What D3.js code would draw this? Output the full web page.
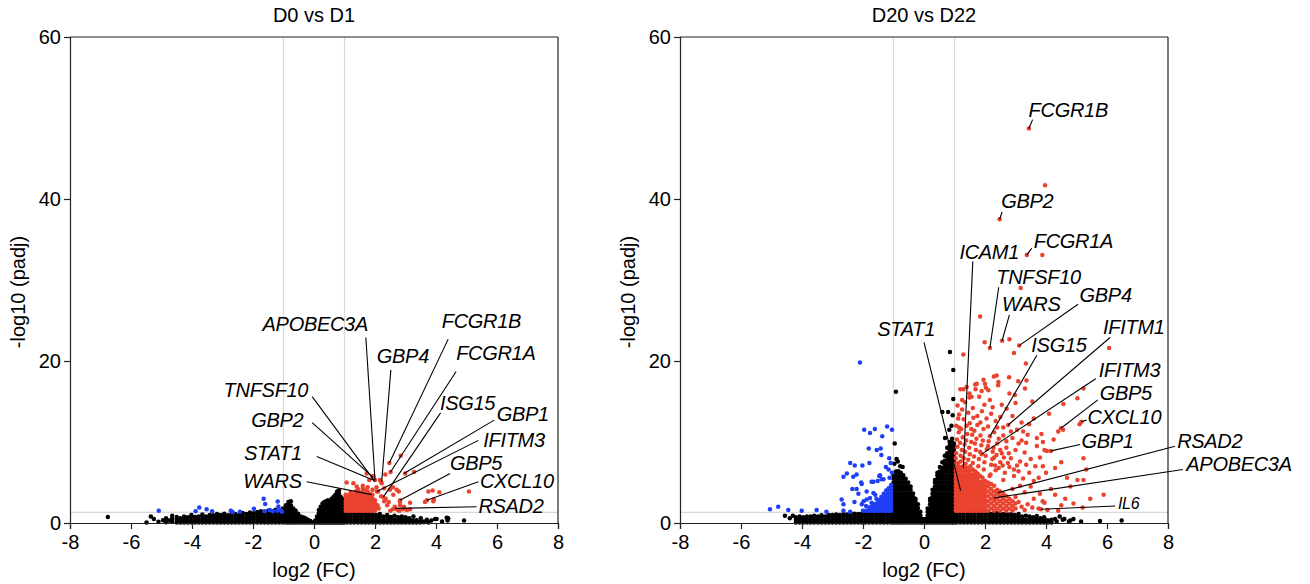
<!DOCTYPE html>
<html>
<head>
<meta charset="utf-8">
<script src="https://cdn.jsdelivr.net/npm/d3@7"></script>
<style>
  body { margin: 0; background: #fff; }
  svg text { font-family: "Liberation Sans", Arial, Helvetica, sans-serif; fill: #000; }
</style>
</head>
<body>
<svg id="chart" width="1310" height="584"></svg>
<script>
// ---- data (log2 FC, -log10 padj) ----
const xTicks = [-8, -6, -4, -2, 0, 2, 4, 6, 8];
const yTicks = [0, 20, 40, 60];
const panelTitles = ['D0 vs D1', 'D20 vs D22'];
const fcCut = [-1, 1];
const padjCut = 1.3;

// D0 vs D1
const d1Black = [[-6.76,0.74],[-5.49,0.05],[-5.35,0.8],[-5.25,0.5],[-5.1,0.15],[-4.95,0.35],[-4.85,0.6],[-4.85,0.1],[-4.75,0.3],[-4.65,0.15],[-4.65,0.55],[-4.65,0.9],
  [3.26,0.8],[3.97,0.5],[4.35,0.65],[4.4,0.6],[4.38,0.3],[4.02,0.5],[4.92,0.3],[3.7,0.4],[3.5,0.6],[4.2,0.2],[3.6,0.2],[3.85,0.3]];
const d1BlackCols = [
  [-4.5,[0.05,0.4,0.75]],[-4.38,[0.05,0.4,0.6]],[-4.26,[0.05,0.4,0.8]],[-4.14,[0.05,0.35,0.7]],[-4.02,[0.05,0.4,0.75,1.0]],
  [-3.9,[0.05,0.4,0.75]],[-3.78,[0.05,0.4,0.8]],[-3.66,[0.05,0.4,0.75,1.05]],[-3.54,[0.05,0.4,0.8]],[-3.42,[0.05,0.4,0.75,1.0]],
  [-3.3,[0.05,0.4,0.75,0.95]],[-3.18,[0.05,0.4,0.75,1.1]],[-3.06,[0.05,0.4,0.75,1.0]],[-2.94,[0.05,0.4,0.75,1.15]],[-2.82,[0.05,0.4,0.75,0.95]],
  [-2.7,[0.05,0.4,0.75,1.1]],[-2.58,[0.05,0.4,0.75,1.1]],[-2.46,[0.05,0.4,0.75,1.0]],[-2.34,[0.05,0.4,0.75,1.1,1.25]],[-2.22,[0.05,0.4,0.75,1.1]],
  [-2.1,[0.05,0.4,0.75,1.1,1.3]],[-1.98,[0.05,0.4,0.75,1.1,1.2]],[-1.86,[0.05,0.4,0.75,1.1,1.35]],[-1.74,[0.05,0.4,0.75,1.1,1.45]],[-1.62,[0.05,0.4,0.75,1.1,1.35]],
  [-1.5,[0.05,0.4,0.75,1.1,1.5]],[-1.38,[0.05,0.4,0.75,1.1,1.45]],[-1.26,[0.05,0.4,0.75,1.1,1.45,1.65]],[-1.14,[0.05,0.4,0.75,1.1,1.45,1.55]],[-1.02,[0.05,0.4,0.75,1.1,1.45,1.8]],
  [-0.92,[0.05,0.4,0.75,1.1,1.45,1.8,2.2]],[-0.84,[0.05,0.4,0.75,1.1,1.45,1.8,2.2,2.6]],[-0.76,[0.05,0.4,0.75,1.1,1.45,1.8,2.2,2.7]],[-0.68,[0.05,0.4,0.75,1.1,1.45,1.8]],
  [-0.6,[0.05,0.4,0.75,1.1,1.5]],[-0.52,[0.05,0.4,0.75,1.15]],[-0.44,[0.05,0.4,0.8]],[-0.36,[0.05,0.4,0.7]],[-0.28,[0.05,0.35,0.6]],[-0.2,[0.05,0.4]],[-0.12,[0.05,0.25]],[-0.04,[0.05]],
  [0.04,[0.05,0.3]],[0.1,[0.05,0.4,0.8]],[0.16,[0.05,0.4,0.8,1.2,1.6]],[0.22,[0.05,0.4,0.8,1.2,1.6,2.0]],[0.28,[0.05,0.4,0.8,1.2,1.6,2.0,2.4]],
  [0.34,[0.05,0.4,0.8,1.2,1.6,2.0,2.4,2.6]],[0.4,[0.05,0.4,0.8,1.2,1.6,2.0,2.4,2.7]],[0.46,[0.05,0.4,0.8,1.2,1.6,2.0,2.4,2.8]],[0.52,[0.05,0.4,0.8,1.2,1.6,2.0,2.4,2.7]],
  [0.58,[0.05,0.4,0.8,1.2,1.6,2.0,2.4,2.8,3.0]],[0.64,[0.05,0.4,0.8,1.2,1.6,2.0,2.4,2.8,3.2]],[0.7,[0.05,0.4,0.8,1.2,1.6,2.0,2.4,2.8,3.2,3.5]],
  [0.76,[0.05,0.4,0.8,1.2,1.6,2.0,2.4,2.8,3.2,3.6,3.9]],[0.82,[0.05,0.4,0.8,1.2,1.6,2.0,2.4,2.8,3.2,3.6,4.0]],[0.88,[0.05,0.4,0.8,1.2,1.6,2.0,2.4,2.8,3.2]],
  [0.94,[0.05,0.4,0.8,1.2,1.6,2.0,2.4,2.8,3.0]],[0.99,[0.05,0.4,0.8,1.2,1.6,2.0,2.4,2.8]],
  [1.08,[0.05,0.4,0.8,1.15]],[1.2,[0.05,0.4,0.8,1.2]],[1.32,[0.05,0.4,0.8,1.15]],[1.44,[0.05,0.4,0.8,1.2]],[1.56,[0.05,0.4,0.8,1.1]],
  [1.68,[0.05,0.4,0.8,1.2]],[1.8,[0.05,0.4,0.8,1.1]],[1.92,[0.05,0.4,0.8,1.15]],[2.04,[0.05,0.4,0.8,1.0]],[2.16,[0.05,0.4,0.8,1.1]],
  [2.28,[0.05,0.4,0.8]],[2.4,[0.05,0.4,0.8,1.0]],[2.52,[0.05,0.4,0.75]],[2.64,[0.05,0.4,0.9]],[2.76,[0.05,0.35,0.7]],[2.88,[0.05,0.4,0.8]],
  [3.0,[0.05,0.35,0.7]],[3.12,[0.05,0.35,0.6]],[3.24,[0.05,0.3]],[3.36,[0.05,0.35]],[3.48,[0.05,0.25]],[3.6,[0.1]],[3.75,[0.05]]
];
const d1Blue = [[-5.09,1.5],[-3.76,1.9],[-3.52,1.7],[-3.88,1.45],[-3.34,1.45],[-2.73,1.5],[-2.67,1.35],[-2.43,1.4],[-1.97,1.75],
  [-1.65,3.0],[-1.6,2.35],[-1.19,2.65],[-1.17,2.05],[-1.62,1.45],[-1.45,1.6],[-1.35,1.45],[-1.2,1.5],[-1.1,1.6],[-1.05,1.4]];
const d1Red = [[2.84,8.3],[2.47,7.4],[1.73,6.1],[1.81,5.3],[2.34,6.0],[2.51,6.3],[2.99,6.1],[3.28,6.3],[2.16,5.3],[2.22,4.9],[1.07,5.0],[1.29,4.9],
  [2.78,3.9],[2.49,4.1],[2.82,2.6],[2.82,2.2],[3.15,2.5],[3.75,3.9],[3.89,4.0],[4.11,3.8],[3.64,2.6],[3.91,2.7],[3.93,2.9],[5.08,3.9],
  [2.59,1.7],[2.75,1.6],[2.92,1.7],[3.05,1.6],[3.15,1.7],[2.2,3.3],[2.35,3.0],[2.45,2.6],[2.3,2.7],[2.08,2.2],[2.12,1.8],[2.59,4.4],
  [2.71,4.1],[2.6,3.5],[2.05,4.4],[2.1,3.9],[1.95,5.8],[2.3,4.3],[2.4,2.2],[2.65,2.0],[2.95,2.0],[1.92,5.7],[2.0,5.3],[2.27,3.2],
  [2.06,3.9],[2.66,1.8],[3.7,2.8],[2.82,2.8],[1.89,3.5],[2.2,5.1],[2.8,1.5],[2.5,1.5],[1.6,4.6],[1.4,4.5]];
const d1RedCols = [
  [1.04,[1.5,1.9,2.3,2.7,3.1,3.5]],[1.12,[1.5,1.9,2.3,2.7,3.1,3.4]],[1.2,[1.5,1.9,2.3,2.7,3.1,3.5,3.8]],[1.28,[1.5,1.9,2.3,2.7,3.1,3.5]],
  [1.36,[1.5,1.9,2.3,2.7,3.1,3.5,3.9]],[1.44,[1.5,1.9,2.3,2.7,3.1,3.5,3.9,4.2]],[1.52,[1.5,1.9,2.3,2.7,3.1,3.5,3.8]],[1.6,[1.5,1.9,2.3,2.7,3.1,3.5,3.9,4.3]],
  [1.68,[1.5,1.9,2.3,2.7,3.1,3.5,4.0]],[1.76,[1.5,1.9,2.3,2.7,3.1,3.5,3.9,4.4]],[1.84,[1.5,1.9,2.3,2.7,3.1,3.6]],[1.92,[1.5,1.9,2.3,2.7,3.0,3.5,4.1]],
  [2.0,[1.5,1.9,2.4,2.8]]
];
const d1Genes = [['APOBEC3A',2.0,5.3],['FCGR1B',2.47,7.4],['GBP4',2.22,5.1],['FCGR1A',2.51,6.3],['ISG15',2.27,3.2],['GBP1',2.95,6.1],
  ['IFITM3',2.06,3.9],['GBP5',2.82,2.8],['CXCL10',3.7,2.8],['RSAD2',2.66,1.8],['TNFSF10',2.0,5.1],['GBP2',1.92,5.7],['STAT1',1.94,5.3],['WARS',1.89,3.5]];

// D20 vs D22
const d2Black = [[-4.56,0.9],[-4.4,0.6],[-4.3,0.9],[0.85,21.1],[0.96,18.9],[0.96,15.3],[0.6,13.7],[0.79,13.7],[0.94,13.3],[0.83,11.5],[0.69,10.5],[0.9,12.0],
  [-0.92,16.2],[-0.96,9.8],[-0.9,7.9],[-0.86,7.6],[-0.97,7.3],[-0.78,7.0],[-0.7,6.9],[4.55,0.4],[4.8,0.3],[5.15,0.2],[5.77,0.25],[6.48,0.3],
  [4.3,0.5],[4.45,0.8],[4.6,0.5],[4.75,0.2],[4.35,0.2],[4.9,0.5]];
const d2BlackCols = [
  [-4.2,[0.05,0.4,0.7]],[-4.08,[0.05,0.4,0.8]],[-3.96,[0.05,0.4,0.7]],[-3.84,[0.05,0.4,0.8]],[-3.72,[0.05,0.4,0.8]],[-3.6,[0.05,0.4,0.75,0.9]],
  [-3.48,[0.05,0.4,0.8]],[-3.36,[0.05,0.4,0.75,0.95]],[-3.24,[0.05,0.4,0.8]],[-3.12,[0.05,0.4,0.75,1.0]],[-3.0,[0.05,0.4,0.8,1.0]],
  [-2.88,[0.05,0.4,0.75,1.05]],[-2.76,[0.05,0.4,0.8,1.0]],[-2.64,[0.05,0.4,0.75,1.1]],[-2.52,[0.05,0.4,0.8,1.05]],[-2.4,[0.05,0.4,0.75,1.1]],
  [-2.28,[0.05,0.4,0.8,1.15]],[-2.16,[0.05,0.4,0.75,1.1]],[-2.04,[0.05,0.4,0.8,1.15]],[-1.92,[0.05,0.4,0.75,1.1,1.25]],[-1.8,[0.05,0.4,0.8,1.15]],
  [-1.68,[0.05,0.4,0.75,1.1,1.25]],[-1.56,[0.05,0.4,0.8,1.15]],[-1.44,[0.05,0.4,0.75,1.1,1.25]],[-1.32,[0.05,0.4,0.8,1.15]],
  [-1.2,[0.05,0.4,0.75,1.1,1.25]],[-1.08,[0.05,0.4,0.8,1.15]],
  [-1.0,[0.05,0.5,0.95,1.4,1.85,2.3,2.75,3.2,3.65,4.1,4.55,5.0,5.45,5.9]],
  [-0.92,[0.05,0.5,0.95,1.4,1.85,2.3,2.75,3.2,3.65,4.1,4.55,5.0,5.45,5.9,6.35]],
  [-0.84,[0.05,0.5,0.95,1.4,1.85,2.3,2.75,3.2,3.65,4.1,4.55,5.0,5.45,5.9,6.4]],
  [-0.76,[0.05,0.5,0.95,1.4,1.85,2.3,2.75,3.2,3.65,4.1,4.55,5.0,5.45,5.9,6.2]],
  [-0.68,[0.05,0.5,0.95,1.4,1.85,2.3,2.75,3.2,3.65,4.1,4.55,5.0,5.45,5.9]],
  [-0.6,[0.05,0.5,0.95,1.4,1.85,2.3,2.75,3.2,3.65,4.1,4.55,5.0,5.45]],
  [-0.52,[0.05,0.5,0.95,1.4,1.85,2.3,2.75,3.2,3.65,4.1,4.55,5.0]],
  [-0.44,[0.05,0.5,0.95,1.4,1.85,2.3,2.75,3.2,3.65,4.1,4.5]],
  [-0.36,[0.05,0.5,0.95,1.4,1.85,2.3,2.75,3.2,3.65]],
  [-0.28,[0.05,0.5,0.95,1.4,1.85,2.3,2.75,3.0]],
  [-0.2,[0.05,0.5,0.95,1.4,1.85,2.3]],
  [-0.12,[0.05,0.5,0.95,1.4]],
  [-0.05,[0.05,0.5]],
  [0.05,[0.05,0.5]],
  [0.12,[0.05,0.5,0.95,1.4,1.8]],
  [0.2,[0.05,0.5,0.95,1.4,1.85,2.3,2.75,3.0]],
  [0.28,[0.05,0.5,0.95,1.4,1.85,2.3,2.75,3.2,3.65,4.1]],
  [0.36,[0.05,0.5,0.95,1.4,1.85,2.3,2.75,3.2,3.65,4.1,4.55,5.0,5.3]],
  [0.44,[0.05,0.5,0.95,1.4,1.85,2.3,2.75,3.2,3.65,4.1,4.55,5.0,5.45,5.9,6.2]],
  [0.52,[0.05,0.5,0.95,1.4,1.85,2.3,2.75,3.2,3.65,4.1,4.55,5.0,5.45,5.9,6.35,6.9]],
  [0.6,[0.05,0.5,0.95,1.4,1.85,2.3,2.75,3.2,3.65,4.1,4.55,5.0,5.45,5.9,6.35,6.8,7.5]],
  [0.68,[0.05,0.5,0.95,1.4,1.85,2.3,2.75,3.2,3.65,4.1,4.55,5.0,5.45,5.9,6.35,6.8,7.25,7.7,8.3]],
  [0.76,[0.05,0.5,0.95,1.4,1.85,2.3,2.75,3.2,3.65,4.1,4.55,5.0,5.45,5.9,6.35,6.8,7.25,7.7,8.15,8.6,9.3]],
  [0.84,[0.05,0.5,0.95,1.4,1.85,2.3,2.75,3.2,3.65,4.1,4.55,5.0,5.45,5.9,6.35,6.8,7.25,7.7,8.15,8.6,9.05,9.5,10.0]],
  [0.92,[0.05,0.5,0.95,1.4,1.85,2.3,2.75,3.2,3.65,4.1,4.55,5.0,5.45,5.9,6.35,6.8,7.25,7.7,8.15,8.6,9.05,9.5,9.95,10.4]],
  [0.98,[0.05,0.5,0.95,1.4,1.85,2.3,2.75,3.2,3.65,4.1,4.55,5.0,5.45,5.9,6.35,6.8,7.25,7.7,8.15,8.6,9.05,9.5,9.8]],
  [1.06,[0.05,0.4,0.8,1.2]],[1.18,[0.05,0.4,0.8,1.25]],[1.3,[0.05,0.4,0.8,1.2]],[1.42,[0.05,0.4,0.8,1.25]],[1.54,[0.05,0.4,0.8,1.2]],
  [1.66,[0.05,0.4,0.8,1.25]],[1.78,[0.05,0.4,0.8,1.2]],[1.9,[0.05,0.4,0.8,1.25]],[2.02,[0.05,0.4,0.8,1.2]],[2.14,[0.05,0.4,0.8,1.2]],
  [2.26,[0.05,0.4,0.8,1.15]],[2.38,[0.05,0.4,0.8,1.2]],[2.5,[0.05,0.4,0.8,1.1]],[2.62,[0.05,0.4,0.8,1.1]],[2.74,[0.05,0.4,0.8,1.05]],
  [2.86,[0.05,0.4,0.8,1.1]],[2.98,[0.05,0.4,0.8,1.0]],[3.1,[0.05,0.4,0.8,1.1]],[3.22,[0.05,0.4,0.8]],[3.34,[0.05,0.4,0.9]],
  [3.46,[0.05,0.4,0.8]],[3.58,[0.05,0.4,0.7]],[3.7,[0.05,0.4,0.85]],[3.82,[0.05,0.35,0.6]],[3.94,[0.05,0.4,0.7]],[4.06,[0.05,0.35]],[4.18,[0.05,0.4]]
];
const d2Blue = [[-2.1,19.8],[-1.96,11.5],[-1.77,11.1],[-1.61,11.6],[-1.21,11.9],[-1.05,11.5],[-1.37,10.7],[-1.81,9.2],[-1.55,9.0],[-1.42,9.2],
  [-1.4,8.4],[-2.42,7.4],[-2.02,7.1],[-1.79,7.4],[-2.27,7.1],[-2.53,6.1],[-2.64,5.7],[-2.32,5.7],[-2.21,6.0],[-2.04,4.8],[-2.06,5.0],
  [-1.72,5.1],[-1.66,5.1],[-1.47,5.8],[-1.44,5.9],[-1.39,5.4],[-1.52,5.2],[-1.33,5.4],[-1.13,5.6],[-1.05,6.2],[-1.14,8.0],[-1.25,6.9],
  [-1.16,6.6],[-1.09,7.4],[-2.35,4.2],[-2.21,4.2],[-2.15,3.6],[-1.88,3.9],[-1.66,3.7],[-1.6,3.5],[-2.7,2.9],[-2.64,2.3],[-2.28,2.6],
  [-2.04,2.3],[-1.98,2.7],[-1.88,2.9],[-1.77,3.1],[-5.05,1.7],[-4.78,2.0],[-4.45,1.6],[-4.01,1.5],[-3.52,1.6],[-3.2,1.4],[-2.64,1.5],[-2.42,1.4]];
const d2BlueCols = [
  [-1.08,[1.5,1.9,2.3,2.7,3.1,3.5,3.9,4.3,4.7]],[-1.16,[1.5,1.9,2.3,2.7,3.1,3.5,3.9,4.3]],[-1.24,[1.5,1.9,2.3,2.7,3.1,3.5,4.0]],
  [-1.32,[1.5,1.9,2.3,2.7,3.1,3.6]],[-1.4,[1.5,1.9,2.3,2.7,3.2]],[-1.48,[1.5,1.9,2.3,2.8]],[-1.56,[1.5,1.9,2.4,3.0]],
  [-1.64,[1.5,1.9,2.3]],[-1.72,[1.5,2.0,2.5]],[-1.8,[1.5,1.9]],[-1.9,[1.5,2.1]],[-2.0,[1.5]]
];
const d2Red = [[3.44,48.7],[3.97,41.7],[2.48,37.5],[3.37,33.1],[3.88,33.1],[3.17,29.0],
  [1.84,25.5],[1.99,22.3],[2.16,21.6],[2.56,22.5],[2.8,22.7],[3.12,21.9],[6.07,21.6],[1.29,20.8],[3.34,19.7],[2.95,21.0],
  [1.95,17.7],[2.29,18.1],[2.0,17.2],[2.79,18.0],[3.36,17.6],[3.09,17.5],[1.19,16.5],[1.29,16.5],[1.68,17.1],[1.69,16.5],[1.89,16.3],[2.03,16.7],
  [1.49,15.5],[1.81,15.6],[2.16,15.2],[2.43,17.0],[5.23,16.6],[5.03,15.4],[1.49,16.0],[1.4,16.8],[1.73,17.2],[2.38,18.2],[2.44,17.4],[2.11,16.4],
  [1.56,15.6],[2.98,15.8],[3.31,16.6],[4.57,14.7],[2.71,14.1],
  [1.1,14.5],[1.25,14.0],[1.45,13.6],[1.6,14.2],[1.75,13.2],[1.9,13.8],[2.05,12.9],[2.2,13.5],[2.35,12.6],[2.5,13.1],[2.6,11.8],[2.76,12.1],
  [2.9,13.2],[3.05,11.5],[3.2,12.4],[3.4,10.9],[3.6,12.9],[3.85,11.0],[4.4,11.3],[4.49,11.7],[4.56,11.5],[5.16,12.5],[5.1,12.2],[2.16,10.7],
  [2.3,11.2],[2.45,10.4],[2.7,10.1],[1.15,11.8],[1.3,12.8],[1.5,12.3],[1.65,11.4],[1.85,10.8],[3.0,14.8],[2.8,16.0],[3.55,15.0],[4.1,13.5],
  [1.95,11.6],[2.55,14.6],[1.35,14.9],
  [2.1,9.5],[2.25,8.8],[2.4,9.8],[2.55,8.6],[2.7,9.3],[2.85,8.0],[3.0,9.0],[3.15,7.6],[3.3,8.7],[3.5,7.9],[3.7,9.5],[3.76,5.6],[3.9,7.0],
  [4.03,8.9],[4.16,8.9],[4.3,6.8],[4.69,5.6],[5.23,8.0],[5.32,6.6],[5.03,5.3],[5.23,5.3],[2.2,7.2],[2.35,6.5],[2.5,7.5],[2.65,6.2],[2.8,6.9],
  [2.95,5.8],[3.1,6.4],[3.25,5.5],[3.45,6.2],[3.6,5.2],[4.0,6.2],[4.5,7.5],[2.15,5.8],[2.6,5.3],[3.35,9.9],[3.9,10.0],[4.25,10.3],[2.3,8.1],
  [2.9,10.5],[3.2,10.2],
  [1.05,8.6],[1.1,9.4],[1.08,10.3],[1.14,11.2],[1.06,12.0],[1.12,12.9],[1.2,8.3],[1.24,9.0],[1.18,9.9],[1.27,10.6],[1.22,11.6],[1.3,8.0],
  [1.35,8.8],[1.33,9.7],[1.38,10.2],[1.42,11.0],[1.45,7.8],[1.5,8.5],[1.48,9.3],[1.55,10.0],[1.58,10.9],[1.6,7.4],[1.64,8.2],[1.7,9.0],
  [1.67,9.8],[1.72,10.4],[1.78,7.0],[1.8,7.9],[1.84,8.8],[1.88,9.6],[1.93,10.2],[1.96,6.6],[1.98,7.5],[2.02,8.3],[2.06,9.1],[2.12,10.1],
  [2.18,6.0],[2.24,7.9],[2.28,9.3],[2.33,7.1],[2.38,8.4],[2.45,6.8],[2.5,9.0],[2.58,7.1],[2.62,8.1],[2.75,7.4],[2.78,8.6],[1.15,13.4],
  [1.4,12.0],[1.75,12.1],[1.55,11.6],[1.25,15.2],[1.62,13.0],[1.85,12.4],[1.98,14.6],[2.25,14.3],[2.1,11.9],[2.4,11.8],[2.6,10.8],[2.85,11.3],
  [3.1,9.8],[3.25,11.3],[3.45,12.2],[3.7,10.5],[3.95,9.0],[3.65,7.0],[3.8,8.1],[3.35,7.2],[3.05,7.1],[2.95,6.6],
  [5.89,3.5],[5.45,3.0],[4.63,3.0],[3.89,2.7],[3.76,1.8],[4.16,4.2],[3.95,2.5],[4.3,3.5],[4.5,2.2],[4.9,2.4],[5.2,1.9],[3.5,4.5],[3.3,3.8],
  [3.15,4.6],[3.0,3.2],[2.9,4.2],[3.4,2.3],[3.2,2.0],[3.6,3.0],[4.05,1.6],[4.8,4.5],[4.4,1.5],[3.1,2.6],[3.3,1.6],[3.55,1.9],[3.8,3.6],
  [2.43,3.75],[2.3,3.1],[3.83,1.7],[1.89,8.5],[1.2,4.0],[1.29,6.8]];
const d2RedCols = [
  [1.04,[1.5,1.95,2.4,2.85,3.3,3.75,4.2,4.65,5.1,5.55,6.0,6.45,6.9,7.35,8.0]],
  [1.12,[1.5,1.95,2.4,2.85,3.3,3.75,4.2,4.65,5.1,5.55,6.0,6.45,6.9,7.4]],
  [1.2,[1.5,1.95,2.4,2.85,3.3,3.75,4.2,4.65,5.1,5.55,6.0,6.45,6.9,7.6]],
  [1.28,[1.5,1.95,2.4,2.85,3.3,3.75,4.2,4.65,5.1,5.55,6.0,6.45,7.0]],
  [1.36,[1.5,1.95,2.4,2.85,3.3,3.75,4.2,4.65,5.1,5.55,6.0,6.45,6.9,7.3]],
  [1.44,[1.5,1.95,2.4,2.85,3.3,3.75,4.2,4.65,5.1,5.55,6.0,6.45,6.8]],
  [1.52,[1.5,1.95,2.4,2.85,3.3,3.75,4.2,4.65,5.1,5.55,6.0,6.45,7.0]],
  [1.6,[1.5,1.95,2.4,2.85,3.3,3.75,4.2,4.65,5.1,5.55,6.0,6.6]],
  [1.68,[1.5,1.95,2.4,2.85,3.3,3.75,4.2,4.65,5.1,5.55,6.0,6.4]],
  [1.76,[1.5,1.95,2.4,2.85,3.3,3.75,4.2,4.65,5.1,5.55,6.1]],
  [1.84,[1.5,1.95,2.4,2.85,3.3,3.75,4.2,4.65,5.1,5.8]],
  [1.92,[1.5,1.95,2.4,2.85,3.3,3.75,4.2,4.65,5.1,5.6]],
  [2.0,[1.5,1.95,2.4,2.85,3.3,3.75,4.2,4.65,5.2]],
  [2.1,[1.5,2.1,2.7,3.3,3.9,4.5,5.0]],
  [2.2,[1.8,2.4,3.0,3.6,4.2,4.8]],
  [2.3,[1.5,2.1,2.7,3.3,3.9,4.6]],
  [2.4,[1.8,2.4,3.0,3.6,4.1]],
  [2.5,[1.5,2.1,2.7,3.3,3.9]],
  [2.6,[1.8,2.4,3.0,3.6]],
  [2.7,[1.5,2.1,2.7,3.3]],
  [2.8,[1.8,2.4,3.0]],
  [2.9,[1.5,2.1,2.7]],
  [3.0,[1.8,2.4]]
];
const d2Genes = [['FCGR1B',3.44,48.7],['GBP2',2.48,37.5],['ICAM1',1.29,6.8],['FCGR1A',3.37,33.1],['TNFSF10',2.16,21.6],['WARS',2.56,22.5],
  ['GBP4',3.12,21.9],['STAT1',1.2,4.0],['IFITM1',2.76,12.1],['ISG15',2.16,10.7],['IFITM3',1.89,8.5],['GBP5',4.49,11.7],['CXCL10',5.16,12.5],
  ['GBP1',4.16,8.9],['RSAD2',2.43,3.75],['APOBEC3A',2.3,3.1],['IL6',3.83,1.7]];

// ---- label placement (text anchor + leader start, in axis units) ----
const d1LabelLayout = {
  APOBEC3A: { t: [1.77, 23.7], a: 'end', l: [1.70, 22.9] },
  FCGR1B: { t: [4.19, 24.1], a: 'start', l: [4.40, 22.7] },
  GBP4: { t: [2.06, 19.75], a: 'start', l: [2.52, 18.9] },
  FCGR1A: { t: [4.66, 20.1], a: 'start', l: [4.66, 18.7] },
  ISG15: { t: [4.13, 13.9], a: 'start', l: [4.15, 13.6] },
  GBP1: { t: [5.99, 12.6], a: 'start', l: [5.91, 12.7] },
  IFITM3: { t: [5.55, 9.4], a: 'start', l: [5.39, 10.2] },
  GBP5: { t: [4.46, 6.5], a: 'start', l: [4.46, 6.1] },
  CXCL10: { t: [5.44, 4.3], a: 'start', l: [5.39, 5.1] },
  RSAD2: { t: [5.39, 1.2], a: 'start', l: [5.33, 2.0] },
  TNFSF10: { t: [-0.19, 15.6], a: 'end', l: [-0.06, 15.6] },
  GBP2: { t: [-0.35, 11.9], a: 'end', l: [-0.06, 12.4] },
  STAT1: { t: [-0.4, 7.8], a: 'end', l: [0.09, 8.2] },
  WARS: { t: [-0.4, 4.3], a: 'end', l: [-0.24, 5.1] }
};
const d2LabelLayout = {
  FCGR1B: { t: [3.43, 50.1], a: 'start', l: [3.56, 49.8] },
  GBP2: { t: [2.53, 38.85], a: 'start', l: [2.56, 38.4] },
  ICAM1: { t: [1.16, 32.6], a: 'start', l: [1.6, 32.3] },
  FCGR1A: { t: [3.6, 34.0], a: 'start', l: [3.53, 33.9] },
  TNFSF10: { t: [2.37, 29.5], a: 'start', l: [2.45, 29.1] },
  WARS: { t: [2.56, 26.2], a: 'start', l: [2.8, 25.7] },
  GBP4: { t: [5.1, 27.3], a: 'start', l: [5.05, 27.0] },
  STAT1: { t: [-1.53, 23.1], a: 'start', l: [0.0, 22.3] },
  IFITM1: { t: [5.87, 23.35], a: 'start', l: [6.1, 22.9] },
  ISG15: { t: [3.52, 21.1], a: 'start', l: [3.7, 20.7] },
  IFITM3: { t: [5.73, 18.0], a: 'start', l: [5.63, 17.8] },
  GBP5: { t: [5.76, 15.2], a: 'start', l: [5.7, 15.2] },
  CXCL10: { t: [5.36, 12.2], a: 'start', l: [5.33, 12.7] },
  GBP1: { t: [5.16, 9.26], a: 'start', l: [5.12, 9.7] },
  RSAD2: { t: [8.3, 9.26], a: 'start', l: [8.23, 9.47] },
  APOBEC3A: { t: [8.6, 6.4], a: 'start', l: [8.49, 6.6] },
  IL6: { t: [6.36, 1.72], a: 'start', l: [6.27, 2.1], small: true }
};

const RED = '#e9432f', BLUE = '#1e3ff5';
const flat = (cols) => cols.flatMap(([x, ys]) => ys.map((y) => [x, y]));

const panels = [
  { title: panelTitles[0], left: 70, black: d1Black.concat(flat(d1BlackCols)), blue: d1Blue, red: d1Red.concat(flat(d1RedCols)), genes: d1Genes, layout: d1LabelLayout },
  { title: panelTitles[1], left: 680, black: d2Black.concat(flat(d2BlackCols)), blue: d2Blue.concat(flat(d2BlueCols)), red: d2Red.concat(flat(d2RedCols)), genes: d2Genes, layout: d2LabelLayout }
];

const svg = d3.select('#chart');
const plotW = 488, plotTop = 37, plotBottom = 523;

panels.forEach((p) => {
  const x = d3.scaleLinear().domain([-8, 8]).range([p.left, p.left + plotW]);
  const y = d3.scaleLinear().domain([0, 60]).range([plotBottom, plotTop]);
  const g = svg.append('g');

  // threshold guides
  g.selectAll('line.vcut').data(fcCut).join('line').classed('vcut', true)
    .attr('x1', (d) => x(d)).attr('x2', (d) => x(d)).attr('y1', plotTop).attr('y2', plotBottom)
    .attr('stroke', '#d8d8d8').attr('stroke-width', 1.2);
  g.append('line').attr('x1', x(-8)).attr('x2', x(8)).attr('y1', y(padjCut)).attr('y2', y(padjCut))
    .attr('stroke', '#d8d8d8').attr('stroke-width', 1.2);

  // points
  const dots = (data, color) => g.append('g').selectAll('circle').data(data).join('circle')
    .attr('cx', (d) => x(d[0])).attr('cy', (d) => y(d[1])).attr('r', 2.25).attr('fill', color);
  dots(p.black, '#000');
  dots(p.blue, BLUE);
  dots(p.red, RED);

  // frame: top + right border
  g.append('line').attr('x1', x(-8)).attr('x2', x(8)).attr('y1', plotTop).attr('y2', plotTop).attr('stroke', '#222').attr('stroke-width', 1.2);
  g.append('line').attr('x1', x(8)).attr('x2', x(8)).attr('y1', plotTop).attr('y2', plotBottom).attr('stroke', '#222').attr('stroke-width', 1.2);

  const xAxis = g.append('g').attr('transform', `translate(0,${plotBottom})`)
    .call(d3.axisBottom(x).tickValues(xTicks).tickSize(6).tickPadding(6).tickFormat(d3.format('d')));
  const yAxis = g.append('g').attr('transform', `translate(${p.left},0)`)
    .call(d3.axisLeft(y).tickValues(yTicks).tickSize(6).tickPadding(3));
  [xAxis, yAxis].forEach((a) => {
    a.select('.domain').attr('stroke', '#222').attr('stroke-width', 1.2);
    a.selectAll('.tick line').attr('stroke', '#222').attr('stroke-width', 1.2);
    a.selectAll('.tick text').attr('font-size', 20).attr('font-family', '"Liberation Sans", Arial, sans-serif').attr('fill', '#000');
  });
  xAxis.selectAll('.tick text').text((d) => (d < 0 ? '-' + Math.abs(d) : d));

  // titles
  g.append('text').attr('x', x(0)).attr('y', 22).attr('text-anchor', 'middle').attr('font-size', 20).text(p.title);
  g.append('text').attr('x', x(0)).attr('y', 577).attr('text-anchor', 'middle').attr('font-size', 20).text('log2 (FC)');
  g.append('text').attr('transform', `translate(${p.left - 45},${(plotTop + plotBottom) / 2 + 12}) rotate(-90)`)
    .attr('text-anchor', 'middle').attr('font-size', 20).text('-log10 (padj)');

  // gene labels with leader lines
  const lab = g.append('g');
  lab.selectAll('line').data(p.genes).join('line')
    .attr('x1', (d) => x(p.layout[d[0]].l[0])).attr('y1', (d) => y(p.layout[d[0]].l[1]))
    .attr('x2', (d) => x(d[1])).attr('y2', (d) => y(d[2]))
    .attr('stroke', '#000').attr('stroke-width', 1.1);
  lab.selectAll('text').data(p.genes).join('text')
    .attr('x', (d) => x(p.layout[d[0]].t[0])).attr('y', (d) => y(p.layout[d[0]].t[1]))
    .attr('text-anchor', (d) => p.layout[d[0]].a)
    .attr('font-size', (d) => (p.layout[d[0]].small ? 16 : 20))
    .attr('font-style', 'italic')
    .attr('letter-spacing', -0.3)
    .text((d) => d[0]);
});
</script>
</body>
</html>
